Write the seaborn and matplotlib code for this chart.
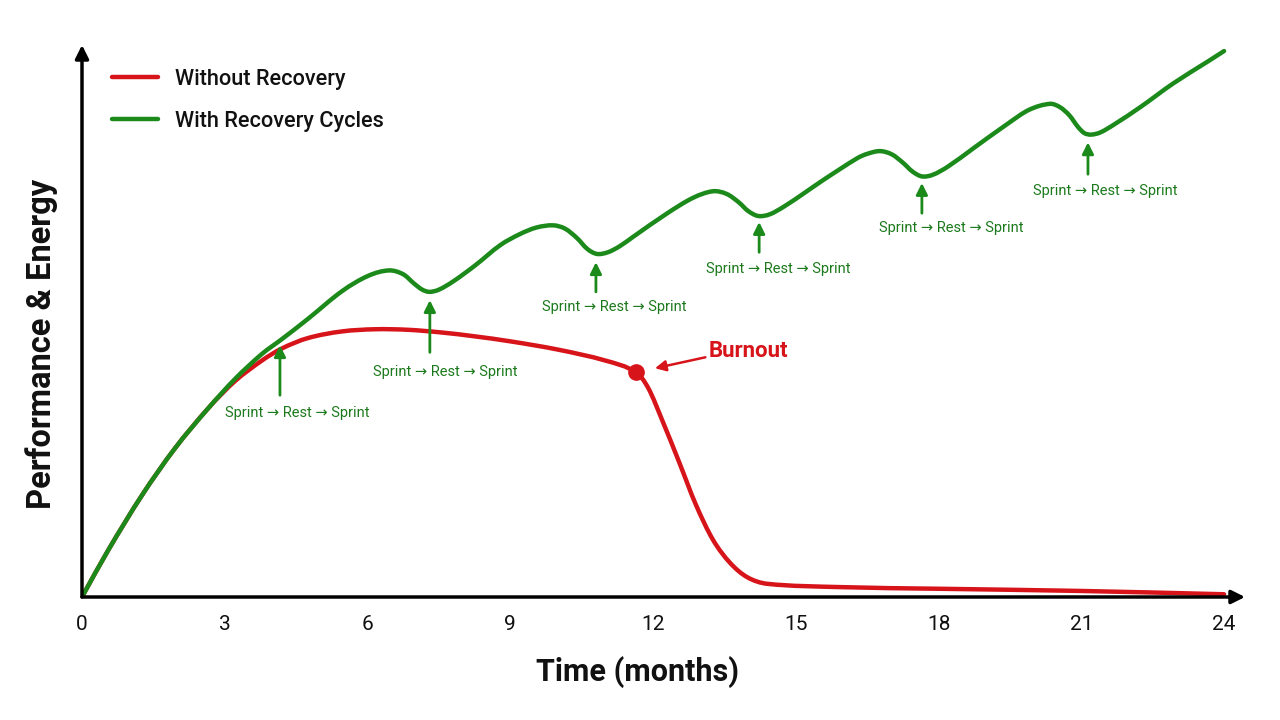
import matplotlib
matplotlib.use("Agg")
import matplotlib.pyplot as plt
from matplotlib.path import Path
from matplotlib.patches import PathPatch
import seaborn as sns
import pandas as pd

# Values (months, performance score 0-100)
red_months = [0, 0.55, 1.26, 1.95, 2.65, 3.22, 3.78, 4.2, 4.75, 5.46, 6.16,
              6.85, 7.57, 8.26, 9, 10, 11, 11.64, 11.9, 12.2, 12.55, 12.9,
              13.26, 13.62, 13.98, 14.4, 15.93, 18, 21, 24]
red_values = [0, 8.5, 18.5, 27.0, 34.3, 39.3, 43.0, 45.2, 47.1, 48.3, 48.7,
              48.6, 48.1, 47.4, 46.5, 45.0, 43.0, 40.9, 38.0, 32.0, 24.5, 16.8,
              10.4, 6.2, 3.6, 2.4, 1.8, 1.5, 1.1, 0.5]

green_months = [0, 0.55, 1.26, 1.95, 2.65, 3.22, 3.78, 4.2, 4.75, 5.46, 6.01,
                6.45, 6.75, 6.98, 7.15, 7.3, 7.5, 7.8, 8.26, 8.79, 9.2, 9.55,
                9.9, 10.15, 10.4, 10.62, 10.82, 11.05, 11.3, 11.58, 12.3,
                12.84, 13.26, 13.55, 13.8, 14.0, 14.21, 14.45, 14.75, 15.2,
                15.57, 16.29, 16.5, 16.77, 17.02, 17.25, 17.45, 17.65, 17.88,
                18.2, 18.73, 19.44, 19.9, 20.34, 20.55, 20.75, 20.93, 21.06,
                21.2, 21.4, 21.7, 22.24, 22.93, 23.64, 24.0]
green_values = [0, 8.5, 18.5, 27.0, 34.3, 39.7, 44.2, 46.9, 50.6, 55.6, 58.4,
                59.4, 58.7, 57.0, 55.9, 55.5, 55.9, 57.4, 60.3, 64.0, 66.0,
                67.2, 67.6, 67.0, 65.3, 63.3, 62.4, 62.7, 63.8, 65.5, 69.8,
                72.6, 73.8, 73.3, 71.8, 70.2, 69.3, 69.6, 71.0, 73.6, 75.8,
                79.8, 80.6, 81.1, 80.5, 79.0, 77.4, 76.5, 76.8, 78.3, 81.6,
                86.0, 88.6, 89.7, 89.1, 87.6, 85.5, 84.4, 84.1, 84.5, 86.0,
                89.1, 93.4, 97.3, 99.3]

x_ticks = [0, 3, 6, 9, 12, 15, 18, 21, 24]
series_labels = ["Without Recovery", "With Recovery Cycles"]
cycle_label = "Sprint \u2192 Rest \u2192 Sprint"
burnout_month = 11.64
burnout_value = 40.9

# recovery arrows: month, arrow tail, arrow head, text month, text value
cycle_marks = [
    (4.16, 36.7, 45.8, 4.52, 33.5),
    (7.31, 44.5, 54.0, 7.63, 40.9),
    (10.8, 55.5, 60.9, 11.18, 52.7),
    (14.23, 62.7, 68.2, 14.63, 59.6),
    (17.65, 69.8, 75.3, 18.26, 67.1),
    (21.14, 76.9, 82.7, 21.5, 73.8),
]

RED = "#d7141a"
GREEN = "#1b8a1b"
TEXT_GREEN = "#1c7a1c"
INK = "#111111"


def smooth_path(xs, ys):
    # hermite curve through the read points, drawn as cubic bezier segments
    n = len(xs)
    slopes = []
    for i in range(n):
        a = max(i - 1, 0)
        b = min(i + 1, n - 1)
        slopes.append((ys[b] - ys[a]) / (xs[b] - xs[a]))
    verts = [(xs[0], ys[0])]
    codes = [Path.MOVETO]
    for i in range(n - 1):
        h = (xs[i + 1] - xs[i]) / 3
        verts += [(xs[i] + h, ys[i] + slopes[i] * h),
                  (xs[i + 1] - h, ys[i + 1] - slopes[i + 1] * h),
                  (xs[i + 1], ys[i + 1])]
        codes += [Path.CURVE4] * 3
    return Path(verts, codes)


sns.set_theme(style="white")
plt.rcParams["font.family"] = ["Roboto", "DejaVu Sans"]
plt.rcParams["text.color"] = INK
plt.rcParams["xtick.color"] = INK

df = pd.concat([
    pd.DataFrame({"month": red_months, "value": red_values, "series": series_labels[0]}),
    pd.DataFrame({"month": green_months, "value": green_values, "series": series_labels[1]}),
])

fig = plt.figure(figsize=(12.8, 7.2), dpi=100)
ax = fig.add_axes([82 / 1280, 123 / 720, (1245 - 82) / 1280, 552 / 720])

sns.lineplot(data=df, x="month", y="value", hue="series",
             palette={series_labels[0]: RED, series_labels[1]: GREEN},
             linewidth=3.2, ax=ax, sort=False, estimator=None)

ax.set_xlim(0, 24.44)
ax.set_ylim(0, 100.4)
for s in ax.spines.values():
    s.set_visible(False)

# axis arrows
ax.annotate("", xy=(1, 0), xytext=(0, 0), xycoords="axes fraction",
            arrowprops=dict(arrowstyle="-|>", color="black", lw=2.5, mutation_scale=20,
                            shrinkA=0, shrinkB=0))
ax.annotate("", xy=(0, 1), xytext=(0, 0), xycoords="axes fraction",
            arrowprops=dict(arrowstyle="-|>", color="black", lw=2.5, mutation_scale=20,
                            shrinkA=0, shrinkB=0))

ax.set_xticks(x_ticks)
ax.set_xticklabels([str(t) for t in x_ticks], fontsize=15)
ax.tick_params(axis="x", length=0, pad=13)
ax.set_yticks([])
ax.set_xlabel("Time (months)", fontsize=22, fontweight="bold", labelpad=16, color=INK)
ax.set_ylabel("Performance & Energy", fontsize=23.5, fontweight="bold", labelpad=17, color=INK)
ax.xaxis.label.set_x((637 - 82) / 1163)
ax.yaxis.label.set_y((597 - 344) / 552)

# recovery cycle notes
for m, tail, head, tm, tv in cycle_marks:
    ax.annotate("", xy=(m, head), xytext=(m, tail),
                arrowprops=dict(arrowstyle="-|>", color=GREEN, lw=2, mutation_scale=17,
                                shrinkA=0, shrinkB=0))
    ax.text(tm, tv, cycle_label, color=TEXT_GREEN, fontsize=10.5, ha="center", va="center")

ax.legend(loc="upper left", bbox_to_anchor=(112 / 1280, 1 - 69 / 720),
          bbox_transform=fig.transFigure, frameon=False, fontsize=15.7,
          handlelength=2.1, handletextpad=0.8, labelspacing=0.95,
          borderpad=0, borderaxespad=0, title=None)
for line in ax.get_legend().get_lines():
    line.set_linewidth(3.2)
for t in ax.get_legend().get_texts():
    t.set_color(INK)
    t.set_fontweight("medium")

# redraw the seaborn lines as smooth curves through the same points
for line in list(ax.get_lines()):
    xs, ys = list(line.get_xdata()), list(line.get_ydata())
    if len(xs) < 3:
        continue
    ax.add_patch(PathPatch(smooth_path(xs, ys), facecolor="none",
                           edgecolor=line.get_color(), lw=3.2,
                           capstyle="round", joinstyle="round", zorder=2))
    line.set_visible(False)

# burnout marker
ax.plot([burnout_month], [burnout_value], "o", color=RED, markersize=11, zorder=5)
ax.annotate("", xy=(12.04, 41.6), xytext=(13.1, 43.6),
            arrowprops=dict(arrowstyle="-|>", color=RED, lw=1.8, mutation_scale=16,
                            shrinkA=0, shrinkB=0))
ax.text(13.16, 44.7, "Burnout", color=RED, fontsize=16, fontweight="bold",
        ha="left", va="center")

fig.savefig("out.png", dpi=100, facecolor="white")
